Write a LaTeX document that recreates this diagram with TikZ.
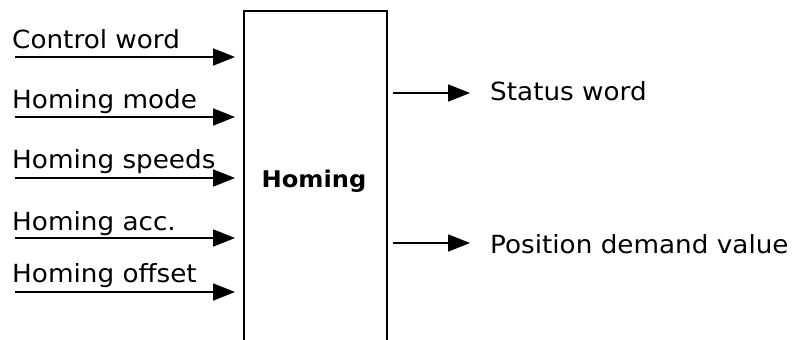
\documentclass[tikz,border=0pt]{standalone}
\usepackage{fontspec}
\setmainfont{DejaVu Sans}[FakeStretch=1.05]
\usetikzlibrary{arrows.meta}
\begin{document}
\begin{tikzpicture}[x=1pt,y=-1pt,
  lbl/.style={anchor=base west,inner sep=0pt,font=\fontsize{25}{28}\selectfont},
  arr/.style={line width=1.8pt,-{Triangle[length=22pt,width=17pt]}},
  blk/.style={draw,line width=1.9pt,minimum width=143pt,minimum height=360pt,inner sep=0pt}]
\useasboundingbox (0,0) rectangle (793,340);
\clip (0,0) rectangle (793,340);
\node[blk] (box) at (315.5,191) {};
\node[anchor=base,inner sep=0pt,font=\fontsize{23}{28}\selectfont\bfseries] (hl) at (314,187) {Homing};
% inputs
\node[lbl] (l1) at (12,48) {Control word};
\node[lbl] (l2) at (12,108) {Homing mode};
\node[lbl] (l3) at (12,168) {Homing speeds};
\node[lbl] (l4) at (12,230) {Homing acc.};
\node[lbl] (l5) at (12,282) {Homing offset};
\foreach \i/\y in {1/57,2/117,3/178,4/238,5/292}{
  \coordinate (s\i) at (15,\y);
  \coordinate (e\i) at (235,\y);
  \draw[arr] (s\i) -- (e\i);
}
% outputs
\coordinate (o1s) at (393,93);
\coordinate (o1e) at (470,93);
\coordinate (o2s) at (393,243);
\coordinate (o2e) at (470,243);
\draw[arr] (o1s) -- (o1e);
\draw[arr] (o2s) -- (o2e);
\node[lbl] (r1) at (490,100) {Status word};
\node[lbl] (r2) at (490,253) {Position demand value};
\end{tikzpicture}
\end{document}
